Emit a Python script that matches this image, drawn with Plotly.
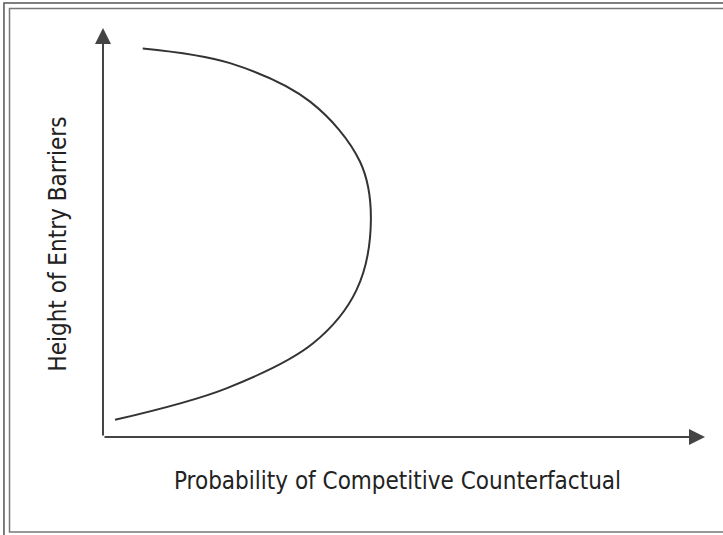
import plotly.graph_objects as go

# curve (x = probability, y = barrier height, 0-100 scale)
prob = [6.6, 21.1, 34.4, 42.7, 44.5, 42.1, 34.9, 20.5, 2.0]
height = [95.0, 91.4, 82.0, 67.3, 53.1, 35.9, 22.9, 11.9, 4.2]

x_title = "Probability of Competitive Counterfactual"
y_title = "Height of Entry Barriers"

font_fam = "Liberation Sans Narrow, DejaVu Sans Condensed, sans-serif"

fig = go.Figure()
fig.add_trace(go.Scatter(x=prob, y=height, mode="lines",
                         line=dict(color="#333333", width=2, shape="spline", smoothing=1.0),
                         hoverinfo="skip", showlegend=False, cliponaxis=False))

# axes with arrowheads
for tip, tail in [((100, 0), (0, 0)), ((0, 100), (0, 0))]:
    fig.add_annotation(x=tip[0], y=tip[1], ax=tail[0], ay=tail[1],
                       xref="x", yref="y", axref="x", ayref="y",
                       showarrow=True, arrowhead=2, arrowsize=1.6, arrowwidth=2,
                       arrowcolor="#444444", standoff=0, text="")

# axis titles
fig.add_annotation(x=0.489, y=-0.147, xref="paper", yref="paper", text=x_title,
                   showarrow=False, font=dict(family=font_fam, size=24, color="#222222"))
fig.add_annotation(x=-0.101, y=0.471, xref="paper", yref="paper", text=y_title, textangle=-90,
                   showarrow=False, font=dict(family=font_fam, size=24, color="#222222"))

# double frame round the picture (cut off at right and bottom)
fig.add_shape(type="rect", xref="paper", yref="paper", x0=-0.1645, y0=-0.3, x1=1.1, y1=1.061,
              line=dict(color="#555555", width=1.5))
fig.add_shape(type="rect", xref="paper", yref="paper", x0=-0.1553, y0=-0.2323, x1=1.1, y1=1.0477,
              line=dict(color="#777777", width=1.5))

fig.update_xaxes(range=[0, 100], visible=False)
fig.update_yaxes(range=[0, 100], visible=False)
fig.update_layout(width=723, height=535, margin=dict(l=103, r=18, t=28, b=98),
                  plot_bgcolor="white", paper_bgcolor="white")

# drop the page's default 8px body margin so the figure sits at the window origin
fig.write_html("out.html", config={"displayModeBar": False},
               post_script="document.body.style.margin='0';")
